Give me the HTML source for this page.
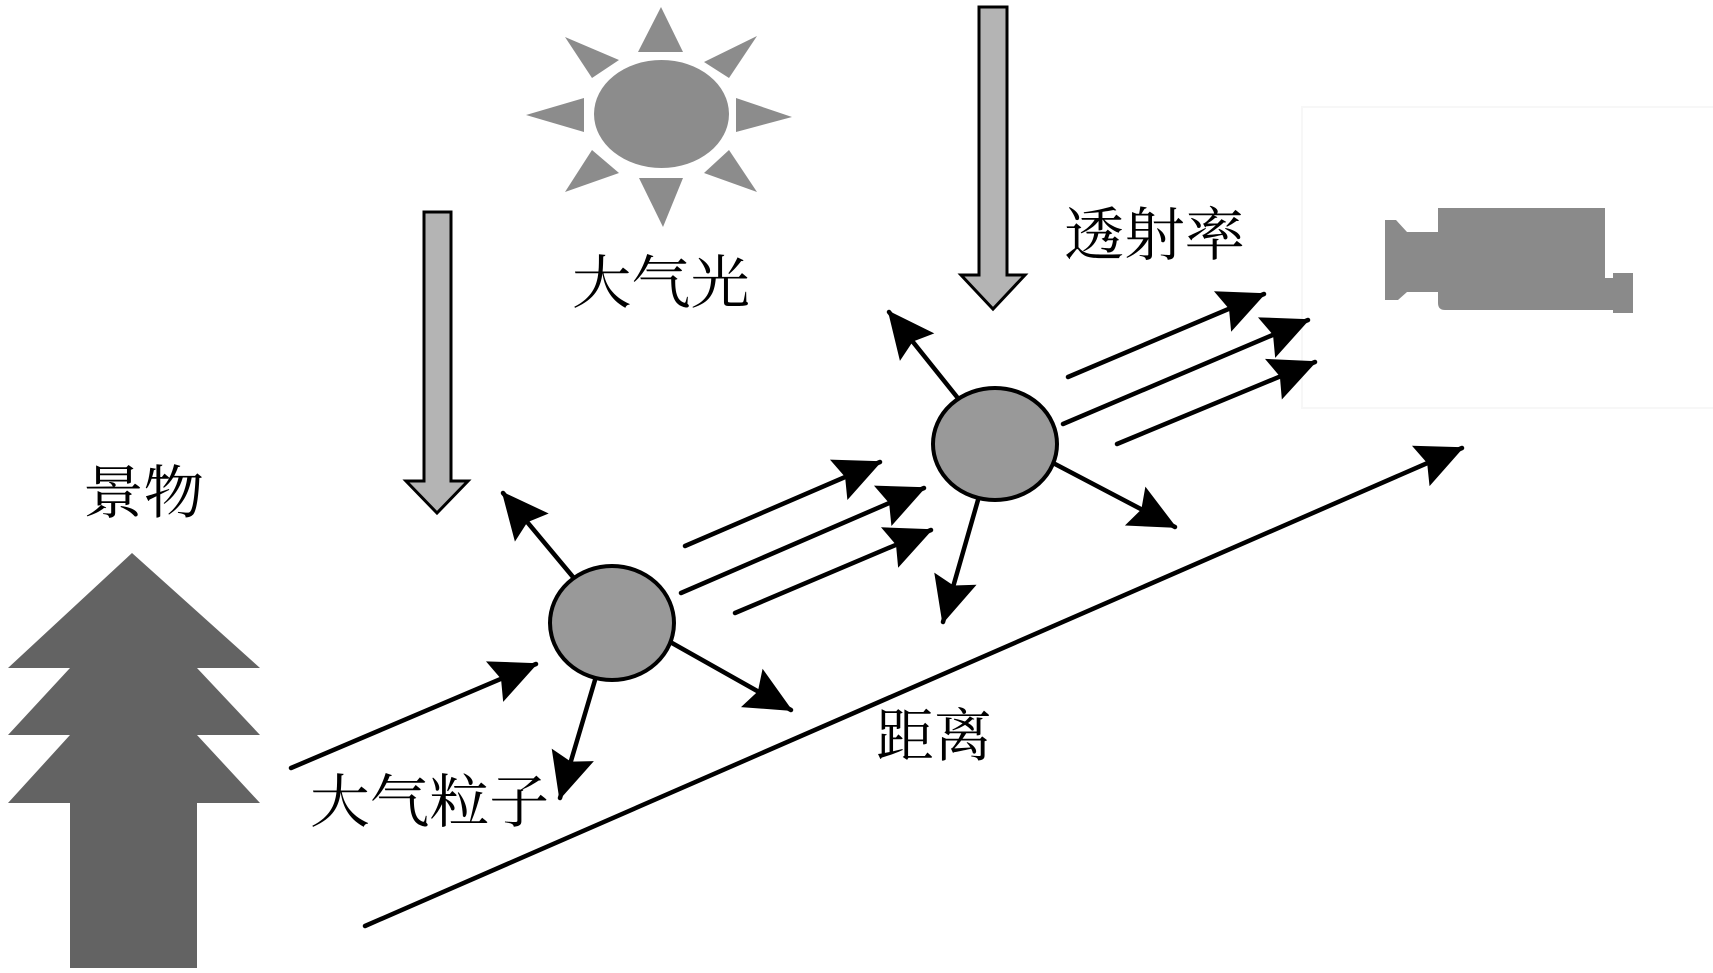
<!DOCTYPE html>
<html>
<head>
<meta charset="utf-8">
<style>
  html, body { margin: 0; padding: 0; background: #fff; }
  svg { display: block; }
  .t { font-family: "Liberation Serif", "Noto Serif CJK SC", serif; font-size: 58px; fill: #000; }
</style>
</head>
<body>
<svg width="1713" height="973" viewBox="0 0 1713 973" xmlns="http://www.w3.org/2000/svg">
  <defs>
    <marker id="ah" markerUnits="userSpaceOnUse" markerWidth="54" markerHeight="54" viewBox="-50 -27 54 54" refX="0" refY="0" orient="auto">
      <path d="M2,0 L-45,-22 L-38,0 L-45,22 Z" fill="#000"/>
    </marker>
  </defs>

  <!-- faint frame around camera -->
  <rect x="1302" y="107" width="420" height="301" fill="none" stroke="#f7f7f7" stroke-width="2"/>

  <!-- Sun -->
  <g fill="#8c8c8c">
    <ellipse cx="661.5" cy="114" rx="67.5" ry="54"/>
    <polygon points="638,52 683,52 661,7"/>
    <polygon points="639,178 683,178 663,227"/>
    <polygon points="584,98 584,132 526,115"/>
    <polygon points="736,98 736,132 792,117"/>
    <polygon points="565,37 619,60 592,78"/>
    <polygon points="757,36 704,62 729,78"/>
    <polygon points="565,192 592,150 619,173"/>
    <polygon points="757,192 729,150 704,173"/>
  </g>

  <!-- Gray down arrows -->
  <polygon points="424,212 451,212 451,481 468,481 437,513 406,481 424,481" fill="#b4b4b4" stroke="#000" stroke-width="3" stroke-linejoin="miter"/>
  <polygon points="979,7 1007,7 1007,275 1025,275 993,309 961,275 979,275" fill="#b4b4b4" stroke="#000" stroke-width="3" stroke-linejoin="miter"/>

  <!-- Camera -->
  <g fill="#8a8a8a">
    <path d="M1438,208 L1605,208 L1605,278 L1613,278 L1613,273 L1633,273 L1633,313 L1613,313 L1613,310 L1445,310 Q1438,310 1438,303 Z"/>
    <path d="M1385,220 L1396,220 L1407,232 L1440,232 L1440,292 L1407,292 L1398,300 L1385,300 Z"/>
  </g>

  <!-- Tree / scene object -->
  <polygon fill="#636363" points="132,553 260,668 197,668 260,735 197,735 260,803 197,803 197,968 70,968 70,803 8,803 70,735 8,735 70,668 8,668"/>

  <!-- Arrows -->
  <g stroke="#000" stroke-width="4.5" stroke-linecap="round" fill="none" marker-end="url(#ah)">
    <!-- particle 1 -->
    <line x1="291" y1="768" x2="536" y2="664"/>
    <line x1="573" y1="577" x2="503" y2="493"/>
    <line x1="595" y1="680" x2="560" y2="798"/>
    <line x1="672" y1="643" x2="791" y2="710"/>
    <line x1="685" y1="546" x2="880" y2="462"/>
    <line x1="681" y1="593" x2="924" y2="488"/>
    <line x1="735" y1="613" x2="931" y2="530"/>
    <!-- particle 2 -->
    <line x1="957" y1="397" x2="889" y2="312"/>
    <line x1="978" y1="500" x2="943" y2="622"/>
    <line x1="1055" y1="464" x2="1175" y2="527"/>
    <line x1="1068" y1="377" x2="1264" y2="294"/>
    <line x1="1063" y1="424" x2="1308" y2="320"/>
    <line x1="1117" y1="444" x2="1315" y2="362"/>
    <!-- distance -->
    <line x1="365" y1="926" x2="1462" y2="448"/>
  </g>

  <!-- Particles -->
  <ellipse cx="612" cy="623" rx="62" ry="57" fill="#999" stroke="#000" stroke-width="4"/>
  <ellipse cx="995" cy="444" rx="62" ry="56" fill="#999" stroke="#000" stroke-width="4"/>

  <!-- Labels -->
  <text class="t" x="572" y="303" textLength="178" lengthAdjust="spacingAndGlyphs">大气光</text>
  <text class="t" x="1064" y="255" textLength="181" lengthAdjust="spacingAndGlyphs">透射率</text>
  <text class="t" x="83" y="513" textLength="121" lengthAdjust="spacingAndGlyphs">景物</text>
  <text class="t" x="310" y="822" textLength="239" lengthAdjust="spacingAndGlyphs">大气粒子</text>
  <text class="t" x="876" y="756" textLength="116" lengthAdjust="spacingAndGlyphs">距离</text>
</svg>
</body>
</html>
